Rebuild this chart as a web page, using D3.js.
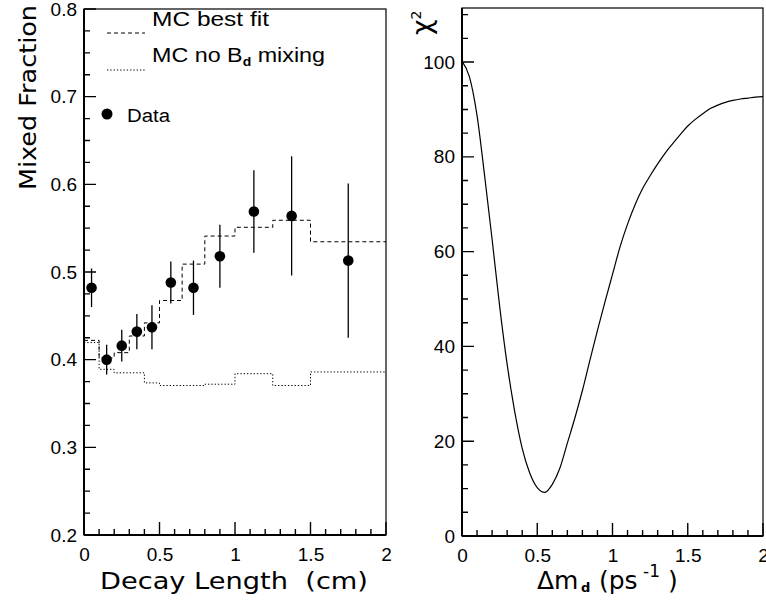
<!DOCTYPE html>
<html><head><meta charset="utf-8">
<script src="https://cdn.jsdelivr.net/npm/d3@7/dist/d3.min.js"></script>
<style>body{margin:0;background:#fff}svg{display:block}text{white-space:pre}</style>
</head><body>
<svg id="c" width="766" height="607"></svg>
<script>
// ---- Left panel data ----
const decayCenters = [0.05, 0.15, 0.25, 0.35, 0.45, 0.575, 0.725, 0.9, 1.125, 1.375, 1.75];
const mixedFraction = [0.482, 0.400, 0.416, 0.432, 0.437, 0.488, 0.482, 0.518, 0.569, 0.564, 0.513];
const mixedError = [0.022, 0.017, 0.018, 0.020, 0.025, 0.024, 0.031, 0.036, 0.047, 0.068, 0.088];
const binEdges = [0, 0.1, 0.2, 0.3, 0.4, 0.5, 0.65, 0.8, 1.0, 1.25, 1.5, 2.0];
const mcBestFit = [0.422, 0.402, 0.408, 0.427, 0.442, 0.4675, 0.509, 0.541, 0.551, 0.559, 0.5345];
const mcNoMixing = [0.4195, 0.389, 0.385, 0.385, 0.3735, 0.3705, 0.3705, 0.372, 0.384, 0.3705, 0.386];
const leftXTicks = [0, 0.5, 1, 1.5, 2];
const leftYTicks = [0.2, 0.3, 0.4, 0.5, 0.6, 0.7, 0.8];

// ---- Right panel data ----
const deltaM = [0, 0.05, 0.1, 0.15, 0.2, 0.25, 0.3, 0.35, 0.4, 0.45, 0.5, 0.55, 0.6, 0.65, 0.7, 0.75, 0.8, 0.85, 0.9, 0.95,
  1.0, 1.05, 1.1, 1.15, 1.2, 1.25, 1.3, 1.35, 1.4, 1.45, 1.5, 1.55, 1.6, 1.65, 1.7, 1.75, 1.8, 1.85, 1.9, 1.95, 2.0];
const chi2 = [100.2, 96.8, 88.7, 76.1, 62.6, 48.5, 36.2, 26.3, 18.5, 13.3, 10.2, 9.2, 10.9, 14.3, 19.6, 24.9, 30.7, 37.1, 43.4, 49.4,
  55.2, 61.0, 65.8, 69.9, 73.3, 76.0, 78.5, 80.8, 82.8, 84.7, 86.5, 87.9, 89.1, 90.2, 90.9, 91.5, 91.9, 92.2, 92.4, 92.6, 92.7];
const rightXTicks = [0, 0.5, 1, 1.5, 2];
const rightYTicks = [0, 20, 40, 60, 80, 100];

const svg = d3.select('#c');
const tickFont = '"Liberation Sans", Arial, sans-serif';
const titleFont = '"DejaVu Sans", sans-serif';

const xL = d3.scaleLinear().domain([0, 2]).range([84, 386]);
const yL = d3.scaleLinear().domain([0.2, 0.8]).range([535, 9]);
const xR = d3.scaleLinear().domain([0, 2]).range([462, 763]);
const yR = d3.scaleLinear().domain([0, 111.4]).range([536, 8]);

function stepValues(a, b, s) { const r = []; const n = Math.round((b - a) / s); for (let i = 0; i <= n; i++) r.push(+(a + i * s).toFixed(4)); return r; }
function isMajor(list, d) { return list.some(t => Math.abs(t - d) < 1e-6); }

function drawAxes(x, y, xt, yt, xMinorStep, yMinorStep, yfmt) {
  const [x0, x1] = x.range(), [y0, y1] = y.range();
  svg.append('rect').attr('x', x0).attr('y', y1).attr('width', x1 - x0).attr('height', y0 - y1)
    .attr('fill', 'none').attr('stroke', '#000').attr('stroke-width', 1.2);
  // tick marks as a single path (inward)
  const xs = stepValues(x.domain()[0], x.domain()[1], xMinorStep);
  const ys = stepValues(y.domain()[0], y.domain()[1], yMinorStep);
  let d = '';
  xs.forEach(v => { d += `M${x(v)},${y0}V${y0 - (isMajor(xt, v) ? 13 : 6)}`; });
  ys.forEach(v => { d += `M${x0},${y(v)}H${x0 + (isMajor(yt, v) ? 12 : 6)}`; });
  svg.append('path').attr('d', d).attr('fill', 'none').attr('stroke', '#000').attr('stroke-width', 1.4);
  // labels via d3 axes
  const gx = svg.append('g').attr('transform', `translate(0,${y0})`)
    .call(d3.axisBottom(x).tickValues(xt).tickSize(0).tickPadding(13).tickFormat(d3.format('')));
  const gy = svg.append('g').attr('transform', `translate(${x0},0)`)
    .call(d3.axisLeft(y).tickValues(yt).tickSize(0).tickPadding(7).tickFormat(yfmt));
  [gx, gy].forEach(a => {
    a.select('.domain').remove();
    a.selectAll('line').remove();
    a.selectAll('text').attr('font-family', tickFont).attr('font-size', 19).attr('fill', '#000');
  });
  svg.append('line').attr('x1', x0).attr('x2', x1).attr('y1', y0).attr('y2', y0).attr('stroke', '#000').attr('stroke-width', 2);
  svg.append('line').attr('x1', x0).attr('x2', x0).attr('y1', y0).attr('y2', y1).attr('stroke', '#000').attr('stroke-width', 2);
}

drawAxes(xL, yL, leftXTicks, leftYTicks, 0.1, 0.025, d3.format('.1f'));
drawAxes(xR, yR, rightXTicks, rightYTicks, 0.1, 5, d3.format('d'));

// ---- Left panel histograms ----
function histPts(vals) { const p = vals.map((v, i) => [binEdges[i], v]); p.push([binEdges[binEdges.length - 1], vals[vals.length - 1]]); return p; }
const stepLine = d3.line().x(d => xL(d[0])).y(d => yL(d[1])).curve(d3.curveStepAfter);
svg.append('path').attr('d', stepLine(histPts(mcNoMixing))).attr('fill', 'none').attr('stroke', '#000')
  .attr('stroke-width', 1).attr('stroke-dasharray', '1.3,2');
svg.append('path').attr('d', stepLine(histPts(mcBestFit))).attr('fill', 'none').attr('stroke', '#000')
  .attr('stroke-width', 1).attr('stroke-dasharray', '4,3');

// data points
const pts = decayCenters.map((c, i) => ({ x: c, y: mixedFraction[i], e: mixedError[i] }));
svg.append('g').selectAll('line').data(pts).join('line')
  .attr('x1', d => xL(d.x)).attr('x2', d => xL(d.x))
  .attr('y1', d => yL(d.y - d.e)).attr('y2', d => yL(d.y + d.e))
  .attr('stroke', '#000').attr('stroke-width', 1.3);
svg.append('g').selectAll('circle').data(pts).join('circle')
  .attr('cx', d => xL(d.x)).attr('cy', d => yL(d.y)).attr('r', 5.3).attr('fill', '#000');

// legend
const lg = svg.append('g').attr('font-family', tickFont).attr('font-size', 20).attr('fill', '#000');
lg.append('line').attr('x1', 107).attr('x2', 145).attr('y1', 33).attr('y2', 33).attr('stroke', '#000').attr('stroke-dasharray', '4,3');
lg.append('text').attr('x', 152).attr('y', 26).attr('textLength', 117).attr('lengthAdjust', 'spacingAndGlyphs').text('MC best fit');
lg.append('line').attr('x1', 107).attr('x2', 145).attr('y1', 70).attr('y2', 70).attr('stroke', '#000').attr('stroke-dasharray', '1.3,2');
const t2 = lg.append('text').attr('x', 152).attr('y', 62).attr('textLength', 173).attr('lengthAdjust', 'spacingAndGlyphs');
t2.append('tspan').text('MC no B');
t2.append('tspan').attr('font-size', 12).attr('font-weight', 'bold').attr('dy', 4).text('d');
t2.append('tspan').attr('dy', -4).text(' mixing');
lg.append('circle').attr('cx', 107).attr('cy', 114).attr('r', 5.5).attr('fill', '#000');
lg.append('text').attr('x', 127).attr('y', 122).attr('textLength', 43).attr('lengthAdjust', 'spacingAndGlyphs').attr('font-size', 18).text('Data');

// ---- Right panel curve ----
const chiLine = d3.line().x((d, i) => xR(deltaM[i])).y(d => yR(d)).curve(d3.curveMonotoneX);
svg.append('path').attr('d', chiLine(chi2)).attr('fill', 'none').attr('stroke', '#000').attr('stroke-width', 1.2);

// ---- Titles ----
svg.append('text').attr('transform', 'translate(36,5) rotate(-90)').attr('text-anchor', 'end')
  .attr('font-family', titleFont).attr('font-size', 23).attr('textLength', 185).attr('lengthAdjust', 'spacingAndGlyphs')
  .text('Mixed Fraction');
svg.append('text').attr('x', 100).attr('y', 589).attr('font-family', titleFont).attr('font-size', 23)
  .attr('textLength', 268).attr('lengthAdjust', 'spacingAndGlyphs').text('Decay Length  (cm)');
const dm = svg.append('text').attr('y', 589).attr('font-family', titleFont).attr('font-size', 25);
dm.append('tspan').attr('x', 537).text('Δm');
dm.append('tspan').attr('x', 581).attr('font-size', 13).attr('font-weight', 'bold').attr('dy', 3).text('d');
dm.append('tspan').attr('x', 599).attr('dy', -3).text('(ps');
dm.append('tspan').attr('x', 643).attr('font-size', 17).attr('dy', -12).text('-1');
dm.append('tspan').attr('x', 668).attr('dy', 12).text(')');
const chi = svg.append('text').attr('transform', 'translate(431,35) rotate(-90)').attr('font-family', titleFont).attr('font-size', 27);
chi.append('tspan').text('χ');
chi.append('tspan').attr('font-size', 14).attr('dy', -10).text('2');
</script>
</body></html>
